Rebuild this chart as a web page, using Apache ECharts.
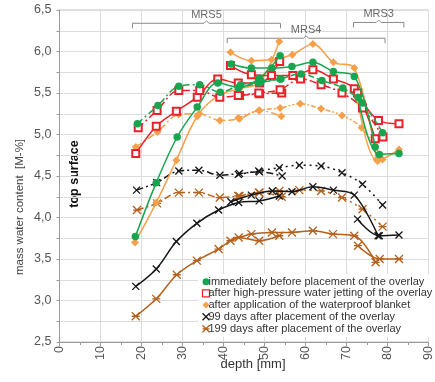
<!DOCTYPE html>
<html>
<head>
<meta charset="utf-8">
<script src="https://cdn.jsdelivr.net/npm/echarts@6/dist/echarts.min.js"></script>
<style>
  html, body { margin: 0; padding: 0; background: #fff; }
  #chart { width: 435px; height: 382px; }
</style>
</head>
<body>
<div id="chart"></div>
<script>
// Measurement conditions (legend entries)
const conditionNames = [
  'immediately before placement of the overlay',
  'after high-pressure water jetting of the overlay',
  'after application of the waterproof blanket',
  '99 days after placement of the overlay',
  '199 days after placement of the overlay'
];

// Depth profiles [depth mm, mass water content M-%]
// immediately before placement of the overlay
const beforeMRS5a = [[18.5,3.77],[23.6,4.42],[28.7,4.97],[33.6,5.33],[38.6,5.62],[43.8,5.57],[48.8,5.68],[53.8,5.95]];
const beforeMRS5b = [[19.0,5.13],[24.0,5.35],[29.1,5.58],[34.2,5.60],[39.2,5.51],[44.2,5.60],[49.2,5.64],[54.0,5.67]];
const beforeMRS4a = [[41.9,5.85],[46.8,5.80],[51.8,5.80],[56.7,5.82],[61.8,5.87],[66.8,5.76],[71.9,5.70],[77.0,4.85]];
const beforeMRS4b = [[43.6,5.56],[48.6,5.62],[53.8,5.67],[58.9,5.73],[64.0,5.65],[69.1,5.56],[73.9,5.38],[78.8,5.02]];
const beforeMRS3  = [[72.8,5.45],[78.0,4.76],[82.8,4.77]];

// after high-pressure water jetting of the overlay
const jettingMRS5a = [[18.6,4.77],[23.6,5.10],[28.5,5.28],[33.6,5.45],[38.6,5.67],[43.6,5.62],[48.8,5.62],[53.7,5.88]];
const jettingMRS5b = [[19.2,5.08],[23.8,5.29],[29.1,5.53],[34.2,5.53],[39.1,5.45],[43.9,5.47],[48.8,5.49],[54.2,5.50]];
const jettingMRS4a = [[41.7,5.83],[46.8,5.72],[51.7,5.71],[56.9,5.71],[61.8,5.78],[66.8,5.67],[71.9,5.55],[77.0,4.95]];
const jettingMRS4b = [[43.6,5.47],[48.6,5.50],[53.8,5.54],[58.8,5.67],[63.8,5.60],[68.9,5.50],[73.9,5.32],[78.9,4.97]];
const jettingMRS3  = [[72.7,5.50],[77.8,5.17],[82.8,5.13]];

// after application of the waterproof blanket
const blanketMRS5a = [[18.4,3.70],[23.6,4.18],[28.5,4.69],[33.6,5.22],[38.8,5.47],[43.8,5.55],[48.8,5.63],[53.6,6.12]];
const blanketMRS5b = [[18.6,4.85],[23.9,5.03],[29.1,5.24],[34.1,5.25],[39.1,5.17],[43.9,5.19],[48.8,5.29],[54.1,5.22]];
const blanketMRS4a = [[41.7,5.99],[46.8,5.89],[51.7,5.90],[56.8,5.96],[61.8,6.09],[66.8,5.87],[71.9,5.80],[77.3,4.70]];
const blanketMRS4b = [[43.6,5.20],[48.6,5.29],[53.8,5.32],[58.7,5.37],[63.8,5.31],[68.9,5.23],[73.7,5.08],[78.8,4.70]];
const blanketMRS3  = [[72.8,5.40],[77.6,4.68],[82.8,4.82]];

// 99 days after placement of the overlay
const day99MRS5a = [[18.6,3.17],[23.6,3.38],[28.5,3.71],[33.5,3.93],[38.8,4.09],[43.7,4.18],[48.7,4.20],[53.6,4.26]];
const day99MRS5b = [[18.8,4.33],[23.7,4.42],[29.1,4.56],[34.0,4.57],[39.1,4.51],[43.9,4.53],[48.8,4.55],[54.3,4.50]];
const day99MRS4a = [[41.8,4.19],[46.8,4.27],[51.9,4.32],[56.7,4.31],[61.8,4.37],[66.8,4.33],[71.9,4.27],[77.7,3.78]];
const day99MRS4b = [[43.6,4.52],[48.6,4.56],[53.6,4.60],[58.5,4.63],[63.8,4.62],[68.9,4.54],[73.9,4.40],[78.8,4.15]];
const day99MRS3  = [[72.7,3.98],[78.0,3.78],[82.8,3.79]];

// 199 days after placement of the overlay
const day199MRS5a = [[18.6,2.81],[23.6,3.02],[28.6,3.31],[33.5,3.48],[38.8,3.62],[43.7,3.76],[48.7,3.72],[53.6,3.78]];
const day199MRS5b = [[18.9,4.09],[23.8,4.17],[29.1,4.30],[34.0,4.30],[39.1,4.24],[43.9,4.26],[48.8,4.30],[54.2,4.25]];
const day199MRS4a = [[41.7,3.72],[46.8,3.80],[51.8,3.82],[56.7,3.82],[61.8,3.84],[66.7,3.80],[71.9,3.78],[77.1,3.46]];
const day199MRS4b = [[43.6,4.26],[48.6,4.30],[53.6,4.32],[58.5,4.33],[63.8,4.32],[68.9,4.24],[73.9,4.10],[78.8,3.89]];
const day199MRS3  = [[72.8,3.66],[78.1,3.50],[82.8,3.50]];

// Measuring-range brackets above the profiles
const rangeNames = ['MRS5', 'MRS4', 'MRS3'];
const rangeFrom  = [17.8, 40.9, 71.7];
const rangeTo    = [53.9, 79.4, 84.0];
const rangeLevel = [6.34, 6.16, 6.35];

// Axis ticks
const depthTicks = [0, 90, 10];
const waterTicks = [2.5, 6.5, 0.5];

// ---- drawing ----
const FONT = 'Liberation Sans, Arial, sans-serif';
const colors = ['#19a550', '#ea2128', '#f6a04b', '#161616', '#b3621e'];
const crossPath = 'path://M0,0L10,10M10,0L0,10';
const starPath = 'path://M0,0L10,10M10,0L0,10M0,5L10,5';
const symbols = ['circle', 'emptyRect', 'diamond', crossPath, starPath];
const symbolSizes = [7.5, 7, 8, 7, 8];
const dashB5 = [7, 3, 2, 3];
const dashB4 = [[6, 3], [7, 3, 2, 3], [5, 2, 2, 2, 2, 2], [2, 4], [2, 4]];

const profileSets = [
  [beforeMRS5a, beforeMRS5b, beforeMRS4a, beforeMRS4b, beforeMRS3],
  [jettingMRS5a, jettingMRS5b, jettingMRS4a, jettingMRS4b, jettingMRS3],
  [blanketMRS5a, blanketMRS5b, blanketMRS4a, blanketMRS4b, blanketMRS3],
  [day99MRS5a, day99MRS5b, day99MRS4a, day99MRS4b, day99MRS3],
  [day199MRS5a, day199MRS5b, day199MRS4a, day199MRS4b, day199MRS3]
];

function markerStyle(i) {
  const c = colors[i];
  if (i === 1) return { color: c, borderColor: c, borderWidth: 1.2 };
  if (i >= 3) return { color: 'none', borderColor: c, borderWidth: 1.3 };
  return { color: c, borderColor: c, borderWidth: 0 };
}

const series = [];
// brackets first so the profiles sit on top
rangeNames.forEach((rn, k) => {
  const a = rangeFrom[k], b = rangeTo[k], y = rangeLevel[k];
  const m = (a + b) / 2;
  series.push({
    type: 'line', silent: true, symbol: 'none', smooth: false, z: 1,
    lineStyle: { color: '#8a8a8a', width: 1 },
    data: [[a, y - 0.06], [a, y], [m - 0.6, y], [m, y + 0.03], [m + 0.6, y], [b, y], [b, y - 0.06]]
  });
  series.push({
    type: 'scatter', silent: true, symbolSize: 0, z: 1,
    data: [[m, y + 0.03]],
    label: { show: true, position: 'top', distance: 0, formatter: rn,
             fontFamily: FONT, fontSize: 11, color: '#444' }
  });
});

profileSets.forEach((set, i) => {
  set.forEach((data, p) => {
    let dash = 'solid';
    if (p === 1) dash = dashB5;
    if (p === 3) dash = dashB4[i];
    series.push({
      type: 'line', name: conditionNames[i], data,
      smooth: 0.35, symbol: symbols[i], symbolSize: symbolSizes[i],
      showSymbol: true, z: 3 + (4 - i),
      lineStyle: { color: colors[i], width: 1.5, type: dash },
      itemStyle: markerStyle(i),
      emphasis: { disabled: true }
    });
  });
});

const chart = echarts.init(document.getElementById('chart'));
chart.setOption({
  animation: false,
  backgroundColor: '#fff',
  grid: { left: 59.5, right: 5.5, top: 10, bottom: 40, show: true,
          borderColor: '#c4c4c4', borderWidth: 1, backgroundColor: 'transparent' },
  xAxis: {
    type: 'value', min: depthTicks[0], max: depthTicks[1], interval: depthTicks[2],
    axisLine: { show: true, lineStyle: { color: '#9a9a9a' } },
    axisTick: { show: true, length: 4, lineStyle: { color: '#9a9a9a' } },
    minorTick: { show: true, splitNumber: 2, length: 3, lineStyle: { color: '#9a9a9a' } },
    splitLine: { show: true, lineStyle: { color: '#dcdcdc' } },
    axisLabel: { rotate: 90, margin: 4, fontFamily: FONT, fontSize: 12.5, color: '#555' }
  },
  yAxis: {
    type: 'value', min: waterTicks[0], max: waterTicks[1], interval: waterTicks[2],
    axisLine: { show: true, lineStyle: { color: '#9a9a9a' } },
    axisTick: { show: true, length: 3, lineStyle: { color: '#9a9a9a' } },
    minorTick: { show: true, splitNumber: 2, length: 3, lineStyle: { color: '#9a9a9a' } },
    splitLine: { show: true, lineStyle: { color: '#dcdcdc' } },
    minorSplitLine: { show: true, lineStyle: { color: '#dcdcdc' } },
    axisLabel: { margin: 8, fontFamily: FONT, fontSize: 12.5, color: '#555',
                 formatter: v => v.toFixed(1).replace('.', ',') }
  },
  legend: {
    orient: 'vertical', left: 198, top: 274,
    itemWidth: 7, itemHeight: 7, itemGap: 0,
    backgroundColor: '#fff', padding: [2, 4, 2, 2],
    selectedMode: false,
    textStyle: { fontFamily: FONT, fontSize: 11, color: '#333', lineHeight: 11.6, padding: [0, 0, 0, -6] },
    data: conditionNames.map((n, i) => ({
      name: n,
      icon: i === 1 ? 'rect' : (i === 3 ? crossPath : (i === 4 ? starPath : (i === 0 ? 'circle' : 'diamond'))),
      itemStyle: i === 1 ? { color: '#fff', borderColor: colors[1], borderWidth: 1.2 }
               : (i >= 3 ? { color: 'none', borderColor: colors[i], borderWidth: 1.3 }
               : { color: colors[i], borderWidth: 0 })
    }))
  },
  graphic: [
    { type: 'text', x: 20, y: 207, rotation: Math.PI / 2,
      style: { text: 'mass water content  [M-%]', font: '11.5px ' + FONT, fill: '#444',
               align: 'center', verticalAlign: 'middle' } },
    { type: 'text', x: 75, y: 174, rotation: Math.PI / 2,
      style: { text: 'top surface', font: 'bold 12.5px ' + FONT, fill: '#111',
               align: 'center', verticalAlign: 'middle' } },
    { type: 'text', x: 253, y: 364,
      style: { text: 'depth [mm]', font: '13px ' + FONT, fill: '#333',
               align: 'center', verticalAlign: 'middle' } }
  ],
  series
});
</script>
</body>
</html>
